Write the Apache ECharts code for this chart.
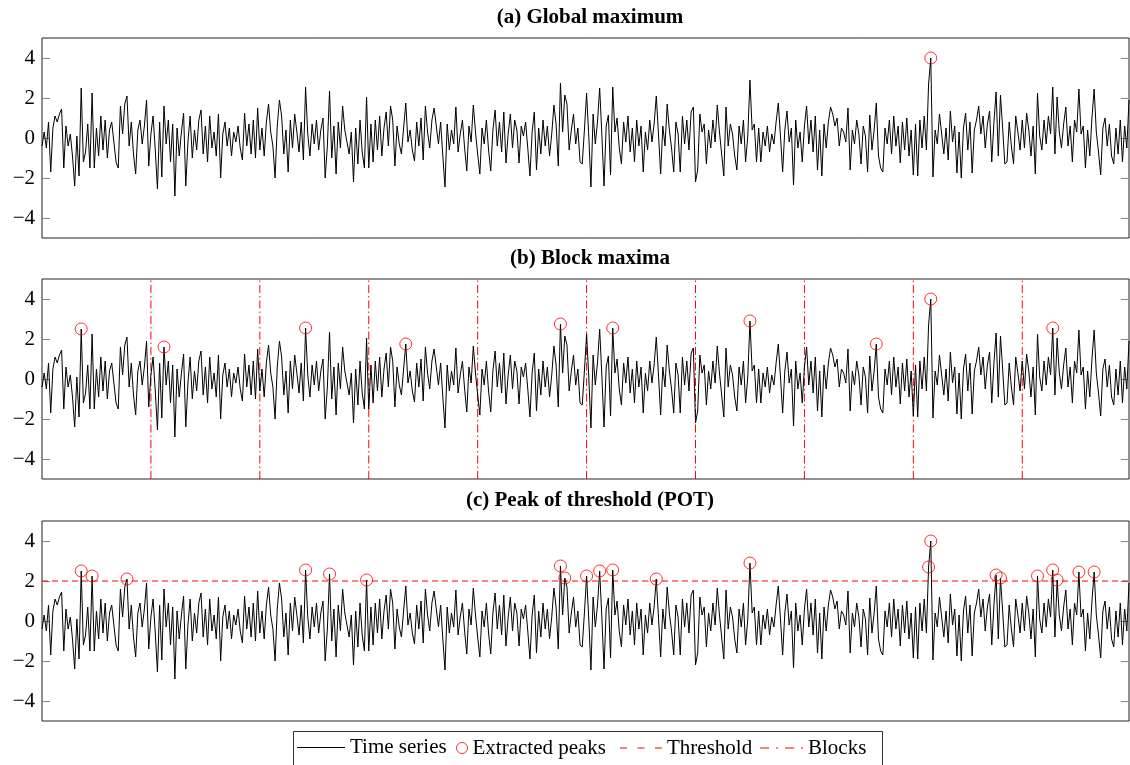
<!DOCTYPE html>
<html>
<head>
<meta charset="utf-8">
<script src="https://cdn.jsdelivr.net/npm/echarts@6/dist/echarts.min.js"></script>
<style>html,body{margin:0;padding:0;background:#fff}#c{width:1130px;height:765px}</style>
</head>
<body>
<div id="c"></div>
<script>
// ---- data ----
const timeSeries = [
-0.4,0.3,-0.5,0.8,-1.7,0.5,1.1,0.8,1.2,1.45,-1.5,0.6,-0.4,0.2,-0.9,-2.4,0.1,-1.9,2.5,-1.2,-0.7,0.7,-1.5,2.25,-1.5,0.5,-0.9,1.1,-0.6,0.9,-1.0,0.4,0.8,-0.2,-1.2,-1.5,1.6,0.2,1.7,2.1,-0.4,0.8,-0.8,-1.8,0.4,0.9,-0.3,0.6,1.9,-1.4,
0.2,1.1,-0.6,-2.55,0.8,-1.95,1.6,-0.3,0.9,-1.2,0.7,-2.9,0.5,-0.9,0.3,1.25,-2.4,-0.2,1.1,-1.0,0.4,-0.6,0.9,1.4,-0.8,0.6,-1.2,1.1,-0.5,0.3,-0.9,1.2,-2.0,0.2,0.8,-0.4,0.5,-0.9,0.3,-0.2,0.6,-0.5,-1.1,1.25,-0.4,0.7,-0.8,0.9,-1.0,1.5,
-0.6,0.5,-0.9,0.8,1.7,0.3,-0.4,-2.0,0.6,1.9,1.1,-0.8,0.4,-1.7,0.9,-0.5,1.2,0.3,-0.7,0.8,-1.1,2.55,0.2,-0.9,0.7,-0.3,0.9,-0.6,0.4,1.0,-2.0,-0.4,2.35,-1.0,0.6,-1.8,0.8,-0.5,1.6,0.4,-0.2,-0.8,0.3,-2.2,0.5,-1.3,0.9,-0.7,-1.5,2.05,
-1.5,0.7,-1.2,0.9,-0.6,1.1,-0.9,0.5,1.3,-0.4,1.6,0.9,-1.4,0.6,-0.3,-0.8,0.5,1.75,-0.2,0.4,-0.6,-1.15,0.8,-0.4,1.0,-1.1,1.6,0.3,-0.5,0.9,1.5,0.6,-0.3,0.8,-0.9,-2.45,0.7,-0.6,0.4,-0.3,1.55,-0.7,0.2,0.9,-0.5,-1.65,0.6,-0.2,1.65,0.3,
-0.8,-1.8,0.5,-0.3,0.9,-0.6,-1.65,0.4,1.4,-0.4,0.8,-0.7,1.3,-1.25,0.2,1.2,-0.5,0.9,0.4,-1.25,0.6,0.1,0.8,-0.5,-1.9,0.3,1.3,-1.6,0.5,-0.8,0.9,-0.4,0.6,-0.9,0.2,1.65,0.7,-1.4,2.75,0.3,2.15,1.7,-0.6,0.4,1.2,-0.3,0.5,-1.2,-1.3,0.4,
2.25,0.1,-2.45,1.2,-0.3,0.8,2.5,0.2,-2.4,0.6,1.15,-1.85,2.55,0.3,1.0,-0.5,-1.3,0.8,-0.2,1.1,-0.7,0.5,-1.2,0.9,-0.4,0.6,-1.7,0.3,-0.6,0.9,-0.2,0.7,2.1,0.2,-1.8,0.6,-0.4,1.7,0.4,-0.5,-1.7,0.8,0.2,-1.7,1.1,-0.3,0.9,-0.6,1.3,1.55,
-2.2,-1.6,1.2,0.3,0.7,-1.3,0.4,-0.5,0.9,-0.2,1.65,0.3,-0.8,-1.9,1.55,-0.4,0.7,0.2,-0.9,-1.6,0.6,-0.3,0.9,-1.2,0.1,2.9,0.4,0.7,-1.2,0.5,-1.2,0.3,-0.4,0.6,-0.7,0.2,-0.3,0.8,1.75,0.1,-1.7,0.4,1.35,-0.2,0.5,-2.35,0.9,-0.5,0.3,-1.2,
0.6,1.6,-0.3,0.9,-0.7,1.1,-1.6,0.4,-1.9,0.7,-0.5,0.8,1.55,1.2,0.6,1.0,-0.4,0.5,0.3,-0.2,1.5,-1.6,0.4,-0.3,0.9,0.2,-1.3,0.6,0.1,-1.7,1.15,-0.6,0.4,1.75,-0.9,-1.5,-1.7,0.5,-0.3,0.9,-0.8,1.1,-0.4,0.6,-1.25,0.8,-0.6,1.0,-0.9,0.4,
-1.85,0.7,-1.9,0.9,-0.5,1.1,-0.6,2.7,4.0,-1.95,0.4,-0.3,1.2,0.2,-0.8,0.5,-1.1,1.35,-0.2,0.6,-1.75,0.3,-2.0,0.5,1.25,-0.6,0.8,-1.75,0.4,0.9,1.6,0.2,1.1,-0.5,0.7,1.35,-1.2,0.8,2.3,-0.9,2.15,0.5,-1.3,-1.2,0.8,-0.4,-1.3,1.1,0.3,-0.6,
0.9,-0.5,1.25,0.4,-0.9,0.6,-1.8,2.25,0.1,-0.6,0.9,-0.3,1.1,0.2,2.55,-0.8,2.05,0.3,-0.5,0.7,1.55,-0.4,0.6,-1.2,0.9,0.3,2.45,0.2,0.6,-1.5,0.4,-0.9,1.0,2.45,0.3,-0.7,-1.85,0.5,1.0,-0.4,0.7,-0.9,-1.3,0.5,-0.8,0.9,-1.2,0.6,-0.5,1.9
];
const yTicks = [-4, -2, 0, 2, 4];
const yRange = [-5, 5];
const threshold = 2;
const blockSize = 50;
const blockEdges = [50, 100, 150, 200, 250, 300, 350, 400, 450];
const panelTitles = ['(a) Global maximum', '(b) Block maxima', '(c) Peak of threshold (POT)'];
const legendNames = ['Time series', 'Extracted peaks', 'Threshold', 'Blocks'];

// ---- derived marks ----
const tsPoints = timeSeries.map((v, i) => [i, v]);
let gi = 0;
timeSeries.forEach((v, i) => { if (v > timeSeries[gi]) gi = i; });
const globalPeak = [[gi, timeSeries[gi]]];
const blockPeaks = [];
for (let s = 0; s < timeSeries.length; s += blockSize) {
  let bi = s;
  for (let i = s; i < Math.min(s + blockSize, timeSeries.length); i++) if (timeSeries[i] > timeSeries[bi]) bi = i;
  blockPeaks.push([bi, timeSeries[bi]]);
}
const potPeaks = tsPoints.filter(p => p[1] > threshold);
const blockLinePts = [];
blockEdges.forEach(x => { blockLinePts.push([x, yRange[0]], [x, yRange[1]], [x, '-']); });

// ---- layout ----
const FONT = 'Liberation Serif';
const FS = 21;
const tops = [38, 279, 521];
const H = 200;
const minus = v => (v < 0 ? '\u2212' + Math.abs(v) : String(v));

const grids = tops.map(t => ({
  left: 42, right: 1, top: t, height: H, show: true,
  borderColor: '#222', borderWidth: 1, backgroundColor: 'transparent'
}));
const xAxes = tops.map((t, g) => ({
  type: 'value', gridIndex: g, min: 0, max: timeSeries.length - 1,
  axisLine: { show: false }, axisTick: { show: false }, axisLabel: { show: false }, splitLine: { show: false }
}));
const yAxes = [];
tops.forEach((t, g) => {
  ['left', 'right'].forEach(pos => {
    yAxes.push({
      type: 'value', gridIndex: g, position: pos, min: yRange[0], max: yRange[1],
      axisLine: { show: false }, splitLine: { show: false },
      axisTick: { show: true, inside: true, length: 8, customValues: yTicks, lineStyle: { color: '#888', width: 1 } },
      axisLabel: { show: pos === 'left', customValues: yTicks, formatter: minus,
        fontFamily: FONT, fontSize: FS, color: '#000', margin: 7 }
    });
  });
});

const lineSeries = g => ({
  name: 'Time series', type: 'line', xAxisIndex: g, yAxisIndex: 2 * g,
  data: tsPoints, showSymbol: false, symbol: 'none',
  lineStyle: { color: '#000', width: 1 }, itemStyle: { color: '#000' }, z: 2, silent: true
});
const peakSeries = (g, pts) => ({
  name: 'Extracted peaks', type: 'scatter', xAxisIndex: g, yAxisIndex: 2 * g,
  data: pts, symbol: 'circle', symbolSize: 12,
  itemStyle: { color: 'rgba(0,0,0,0)', borderColor: '#f00', borderWidth: 1 }, z: 5, silent: true
});

const series = [
  lineSeries(0), peakSeries(0, globalPeak),
  {
    name: 'Blocks', type: 'line', xAxisIndex: 1, yAxisIndex: 2, data: blockLinePts,
    showSymbol: false, symbol: 'none', connectNulls: false,
    lineStyle: { color: '#f00', width: 1, type: [8, 3, 1.5, 3] }, itemStyle: { color: '#f00' }, z: 1, silent: true
  },
  lineSeries(1),
  peakSeries(1, blockPeaks),
  {
    name: 'Threshold', type: 'line', xAxisIndex: 2, yAxisIndex: 4,
    data: [[0, threshold], [timeSeries.length - 1, threshold]],
    showSymbol: false, symbol: 'none', lineStyle: { color: '#f00', width: 1, type: [6, 4] }, itemStyle: { color: '#f00' }, z: 1, silent: true
  },
  lineSeries(2), peakSeries(2, potPeaks)
];

const legendText = { fontFamily: FONT, fontSize: FS, color: '#000' };
const legendTop = 737.5;
const legends = [
  { data: [{ name: legendNames[0], icon: 'path://M0,0h48v1h-48z' }], left: 297, top: 737, itemWidth: 48, itemHeight: 1,
    itemStyle: { color: '#000', borderWidth: 0 } },
  { data: [{ name: legendNames[1], icon: 'circle' }], left: 456, itemWidth: 11, itemHeight: 11,
    itemStyle: { color: 'rgba(0,0,0,0)', borderColor: '#f00', borderWidth: 1 } },
  { data: [{ name: legendNames[2], icon: 'path://M0,0h7v1h-7z M17.5,0h7v1h-7z M35,0h7v1h-7z' }], left: 620, itemWidth: 42, itemHeight: 1,
    itemStyle: { color: '#f00', borderWidth: 0 } },
  { data: [{ name: legendNames[3], icon: 'path://M0,0h9v1h-9z M16,0h2v1h-2z M25,0h9v1h-9z M41,0h2v1h-2z' }], left: 760, itemWidth: 43, itemHeight: 1,
    itemStyle: { color: '#f00', borderWidth: 0 } }
].map(l => Object.assign({ top: legendTop, padding: 0, itemGap: 0, selectedMode: false, symbolKeepAspect: false, textStyle: legendText }, l));

const option = {
  animation: false,
  backgroundColor: '#fff',
  title: panelTitles.map((t, g) => ({
    text: t, left: 590, textAlign: 'center', top: tops[g] - 31, padding: 0,
    textStyle: { fontFamily: FONT, fontWeight: 'bold', fontSize: FS, color: '#000' }
  })),
  grid: grids, xAxis: xAxes, yAxis: yAxes,
  legend: legends,
  graphic: [{ type: 'rect', left: 291, top: 729, shape: { width: 589, height: 45 },
    style: { fill: 'none', stroke: '#333', lineWidth: 1 }, z: 10 }],
  series: series
};

const chart = echarts.init(document.getElementById('c'), null, { renderer: 'canvas' });
chart.setOption(option);
</script>
</body>
</html>
